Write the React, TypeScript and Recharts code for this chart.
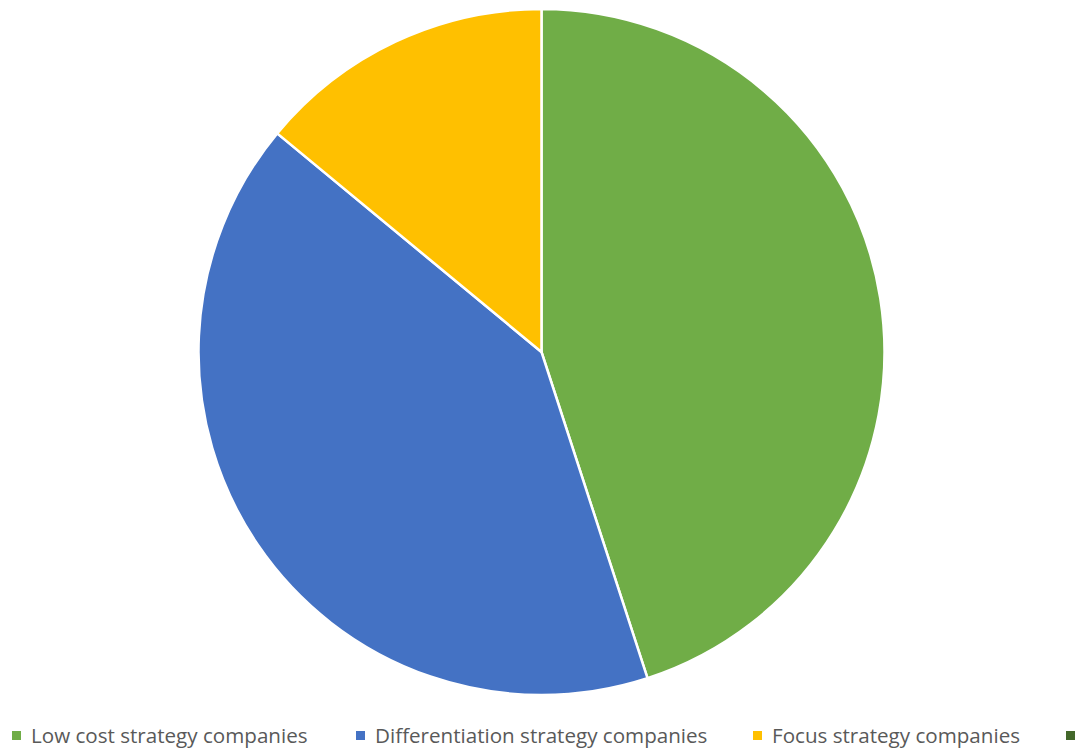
import React from 'react';
import { PieChart, Pie, Cell, Legend } from 'recharts';

const categories = ['Low cost strategy companies', 'Differentiation strategy companies', 'Focus strategy companies', ''];
const values = [45, 41, 14, 0];
const colors = ['#70AD47', '#4472C4', '#FFC000', '#43682B'];

const data = categories.map((name, i) => ({ name, value: values[i] }));

const legendX = [12, 356, 753, 1066];

const CustomLegend = () => (
  <div style={{ position: 'absolute', left: 0, top: 0, width: 1083, height: 751, pointerEvents: 'none' }}>
    {categories.map((c, i) => (
      <div key={i} style={{ position: 'absolute', left: legendX[i], top: 722, display: 'flex', alignItems: 'center', height: 26 }}>
        <div style={{ width: 9, height: 9, background: colors[i], marginRight: 10 }} />
        <span style={{ fontFamily: '"Open Sans", sans-serif', fontSize: 20.6, lineHeight: '26px', color: '#595959', whiteSpace: 'nowrap' }}>{c}</span>
      </div>
    ))}
  </div>
);

export default function App() {
  return (
    <div style={{ position: 'fixed', left: 0, top: 0, width: 1083, height: 751, background: '#fff', overflow: 'hidden' }}>
      <PieChart width={1083} height={751} margin={{ top: 0, right: 0, bottom: 0, left: 0 }}>
        <Pie
          data={data}
          dataKey="value"
          nameKey="name"
          cx={541.5}
          cy={352}
          outerRadius={343}
          startAngle={90}
          endAngle={-270}
          stroke="#ffffff"
          strokeWidth={2.5}
          isAnimationActive={false}
        >
          {data.map((d, i) => (
            <Cell key={i} fill={colors[i]} />
          ))}
        </Pie>
        <Legend content={() => null} />
      </PieChart>
      <CustomLegend />
    </div>
  );
}
